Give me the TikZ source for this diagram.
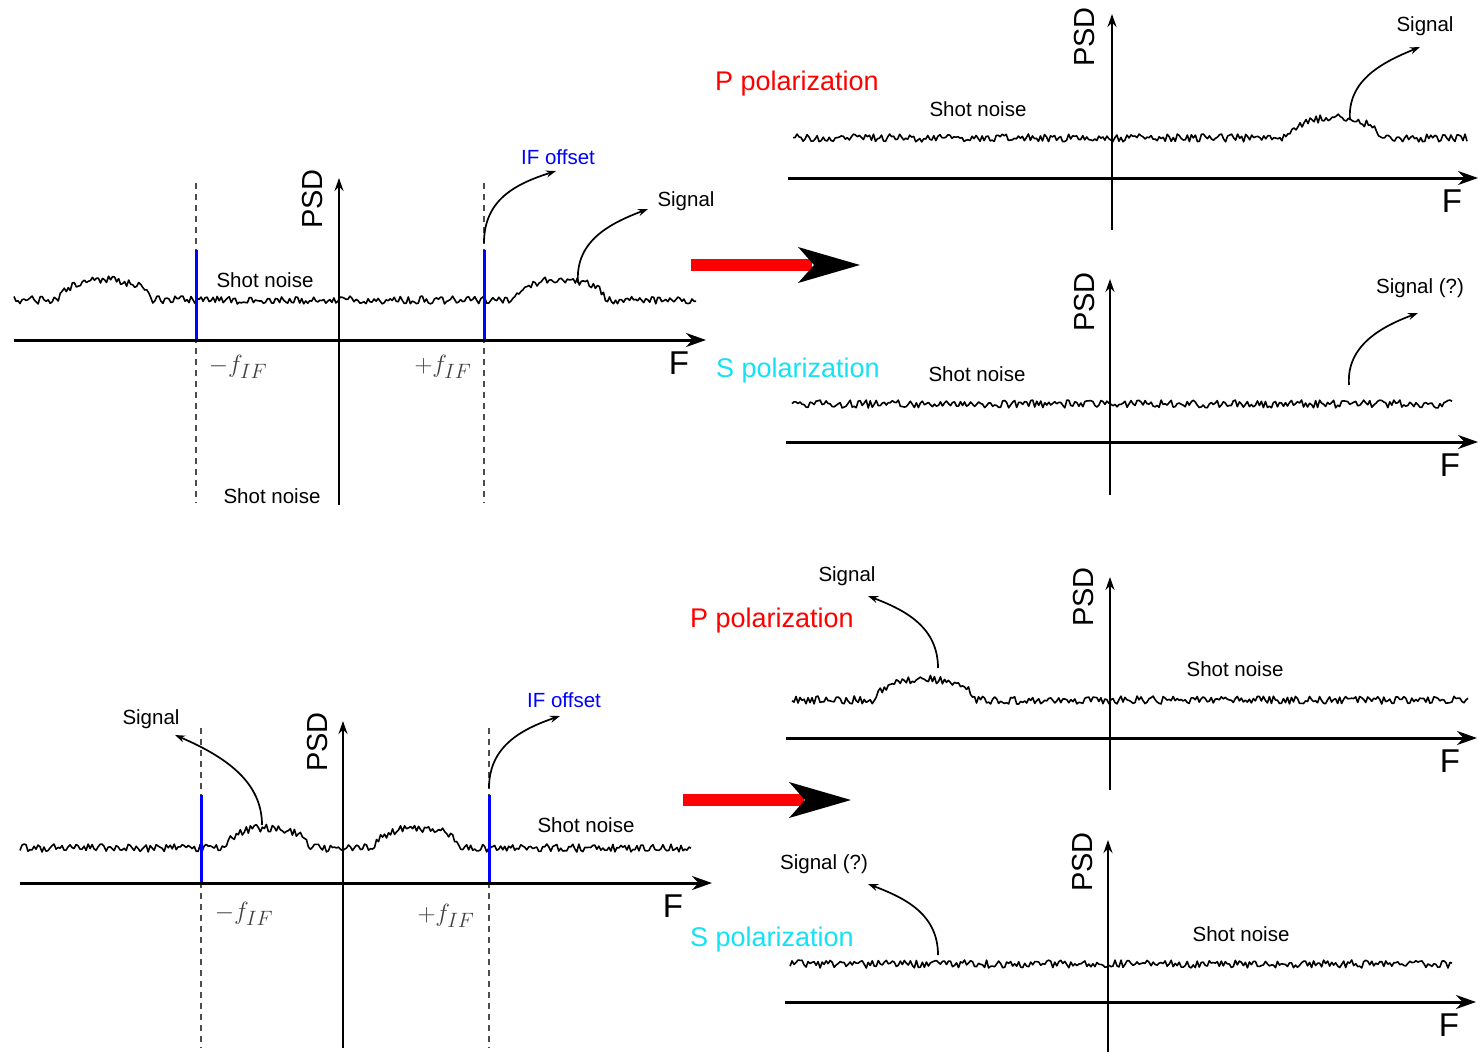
\documentclass[tikz,border=0pt]{standalone}
\usepackage{fontspec}
\setmainfont{Liberation Sans}
\usetikzlibrary{arrows.meta}
\definecolor{scyan}{RGB}{20,225,245}
\begin{document}
\begin{tikzpicture}[x=1pt,y=-1pt,
  axis/.style={line width=3pt,-{Stealth[length=20pt,width=14pt]}},
  yaxis/.style={line width=2.2pt,-{Stealth[length=13pt,width=9pt]}},
  noise/.style={line width=1.6pt,line join=round},
  ann/.style={line width=1.7pt,-{Stealth[length=10pt,width=7pt]}},
  dashline/.style={black!70,line width=1.6pt,dash pattern=on 6pt off 5pt},
  ifline/.style={blue,line width=3pt},
  lbl/.style={font=\fontsize{20.5}{23}\selectfont,inner sep=0pt},
  pol/.style={font=\fontsize{27}{31}\selectfont,inner sep=0pt},
  psd/.style={font=\fontsize{29}{33}\selectfont,rotate=90,inner sep=0pt},
  flbl/.style={font=\fontsize{33}{37}\selectfont,inner sep=0pt},
  mathlbl/.style={font=\fontsize{29}{33}\selectfont,text=black!75,inner sep=0pt}]
\useasboundingbox (0,0) rectangle (1480,1055);
\pgfmathsetseed{4711}

% ---------------- Panel 1 (top left) ----------------
\draw[noise] plot[domain=14:696,samples=340,variable=\t]
  (\t,{300+4*rand-20*sqrt(max(0,1-((\t-105)/46)^2))-20*sqrt(max(0,1-((\t-560)/45)^2))});
\draw[dashline] (196,183) -- (196,503);
\draw[dashline] (484,183) -- (484,503);
\draw[ifline] (196,250) -- (196,340);
\draw[ifline] (484,250) -- (484,340);
\draw[axis] (14,340) -- (706,340);
\draw[yaxis] (339,505) -- (339,178);
\node[psd] (p1psd) at (313,199) {PSD};
\node[lbl] (p1sn) at (265,280) {Shot noise};
\node[lbl] (p1sn2) at (272,496) {Shot noise};
\node[mathlbl] (p1m) at (238,367) {$-f_{IF}$};
\node[mathlbl] (p1p) at (443,367) {$+f_{IF}$};
\node[flbl] (p1F) at (679,363) {F};
\node[lbl,text=blue] (p1if) at (558,157) {IF offset};
\node[lbl] (p1sig) at (686,201) {Signal};
\coordinate (p1ifs) at (484,243);
\coordinate (p1ife) at (556,171);
\draw[ann] (p1ifs) .. controls (484,200) and (515,184) .. (p1ife);
\coordinate (p1ss) at (578,283);
\coordinate (p1se) at (648,209);
\draw[ann] (p1ss) .. controls (575,242) and (608,224) .. (p1se);

% red arrow 1
\fill[red] (691,259) rectangle (812,271);
\fill (860,265) -- (798,247) -- (814,265) -- (798,283) -- cycle;

% ---------------- Panel 2 (top right, P) ----------------
\draw[noise] plot[domain=793:1467,samples=336,variable=\t]
  (\t,{138+4*rand-20*sqrt(max(0,1-((\t-1333)/46)^2))});
\draw[axis] (788,178) -- (1478,178);
\draw[yaxis] (1112,230) -- (1112,14);
\node[psd] (p2psd) at (1085,37) {PSD};
\node[lbl] (p2sn) at (978,109) {Shot noise};
\node[pol,text=red] (p2pol) at (797,84) {P polarization};
\node[lbl] (p2sig) at (1425,26) {Signal};
\node[flbl] (p2F) at (1452,201) {F};
\coordinate (p2ss) at (1350,120);
\coordinate (p2se) at (1420,47);
\draw[ann] (p2ss) .. controls (1347,80) and (1383,62) .. (p2se);

% ---------------- Panel 3 (mid right, S) ----------------
\draw[noise] plot[domain=792:1452,samples=330,variable=\t]
  (\t,{404+4*rand});
\draw[axis] (786,442) -- (1478,442);
\draw[yaxis] (1110,495) -- (1110,279);
\node[psd] (p3psd) at (1085,302) {PSD};
\node[lbl] (p3sn) at (977,374) {Shot noise};
\node[pol,text=scyan] (p3pol) at (798,371) {S polarization};
\node[lbl] (p3sig) at (1420,288) {Signal (?)};
\node[flbl] (p3F) at (1450,465) {F};
\coordinate (p3ss) at (1349,385);
\coordinate (p3se) at (1418,313);
\draw[ann] (p3ss) .. controls (1346,345) and (1383,326) .. (p3se);

% ---------------- Panel 4 (bottom left) ----------------
\draw[noise] plot[domain=20:691,samples=336,variable=\t]
  (\t,{848+4*rand-20*sqrt(max(0,1-((\t-267)/42)^2))-20*sqrt(max(0,1-((\t-417)/42)^2))});
\draw[dashline] (201,728) -- (201,1048);
\draw[dashline] (489,728) -- (489,1048);
\draw[ifline] (201,795) -- (201,883);
\draw[ifline] (489,795) -- (489,883);
\draw[axis] (20,883) -- (712,883);
\draw[yaxis] (343,1048) -- (343,721);
\node[psd] (p4psd) at (318,742) {PSD};
\node[lbl] (p4sig) at (151,719) {Signal};
\node[lbl,text=blue] (p4if) at (564,700) {IF offset};
\node[lbl] (p4sn) at (586,825) {Shot noise};
\node[mathlbl] (p4m) at (244,914) {$-f_{IF}$};
\node[mathlbl] (p4p) at (446,916) {$+f_{IF}$};
\node[flbl] (p4F) at (673,906) {F};
\coordinate (p4ss) at (262,825);
\coordinate (p4se) at (175,735);
\draw[ann] (p4ss) .. controls (262,782) and (226,757) .. (p4se);
\coordinate (p4ifs) at (489,788);
\coordinate (p4ife) at (560,716);
\draw[ann] (p4ifs) .. controls (489,746) and (522,729) .. (p4ife);

% red arrow 2
\fill[red] (683,794) rectangle (804,806);
\fill (851,800) -- (789,782) -- (805,800) -- (789,818) -- cycle;

% ---------------- Panel 5 (right, P) ----------------
\draw[noise] plot[domain=792:1468,samples=338,variable=\t]
  (\t,{700+4*rand-21*sqrt(max(0,1-((\t-925)/50)^2))});
\draw[axis] (786,738) -- (1477,738);
\draw[yaxis] (1110,790) -- (1110,577);
\node[psd] (p5psd) at (1084,597) {PSD};
\node[lbl] (p5sig) at (847,576) {Signal};
\node[pol,text=red] (p5pol) at (772,621) {P polarization};
\node[lbl] (p5sn) at (1235,669) {Shot noise};
\node[flbl] (p5F) at (1450,761) {F};
\coordinate (p5ss) at (938,668);
\coordinate (p5se) at (868,596);
\draw[ann] (p5ss) .. controls (938,627) and (905,610) .. (p5se);

% ---------------- Panel 6 (bottom right, S) ----------------
\draw[noise] plot[domain=790:1452,samples=331,variable=\t]
  (\t,{964+4*rand});
\draw[axis] (785,1002) -- (1476,1002);
\draw[yaxis] (1108,1052) -- (1108,840);
\node[psd] (p6psd) at (1083,862) {PSD};
\node[lbl] (p6sig) at (824,864) {Signal (?)};
\node[pol,text=scyan] (p6pol) at (772,940) {S polarization};
\node[lbl] (p6sn) at (1241,934) {Shot noise};
\node[flbl] (p6F) at (1449,1025) {F};
\coordinate (p6ss) at (938,955);
\coordinate (p6se) at (868,884);
\draw[ann] (p6ss) .. controls (938,914) and (905,898) .. (p6se);
\end{tikzpicture}
\end{document}
